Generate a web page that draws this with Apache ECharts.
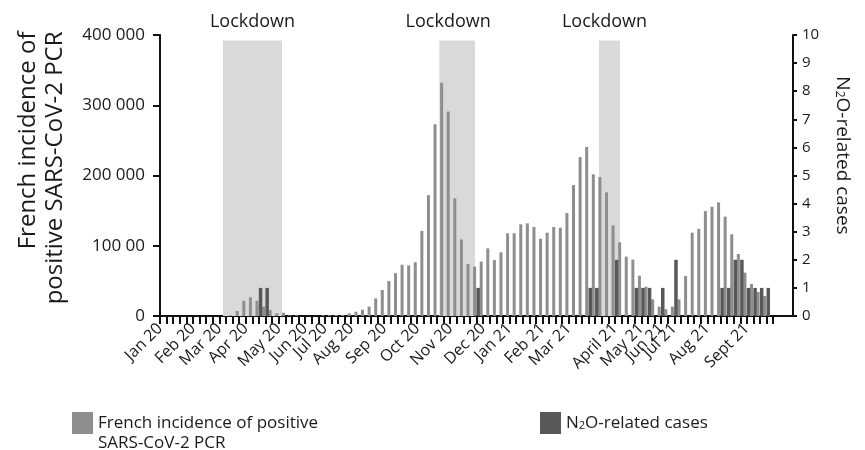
<!DOCTYPE html>
<html><head><meta charset="utf-8">
<script src="https://cdn.jsdelivr.net/npm/echarts@6/dist/echarts.min.js"></script>
<style>html,body{margin:0;padding:0;background:#fff}#c{width:865px;height:450px}</style>
</head><body><div id="c"></div>
<script>
// Weekly categories (week start dates)
const weeks = [];
(function(){ const d = new Date(Date.UTC(2019,11,30)); for (let i=0;i<97;i++){ const t=new Date(d.getTime()+i*7*86400000); weeks.push(t.toISOString().slice(0,10)); } })();

// French incidence of positive SARS-CoV-2 PCR (weekly)
const incidence = [
  0,0,0,0,0,0,0,0,0,0,0,
  1000,7100,21800,26600,21800,13300,8500,3800,4700,1000,1000,
  0,0,0,1000,1200,1400,1600,3600,6100,9000,13300,
  25000,37000,49800,61000,73000,72000,76500,121000,172000,273000,332000,
  291000,167500,109000,74000,70200,77400,96300,79700,90600,117700,117700,
  130500,131900,126700,110000,118600,126700,125700,146600,186500,226300,240600,
  201700,197900,176000,129100,104900,84400,80200,57400,41700,23700,13300,
  9500,13300,23700,57000,118600,124000,149500,155600,161800,141400,116300,
  88300,61700,45600,34200,28500,
  null,null,null,null
];
// N2O-related cases (weekly)
const n2oCases = [
  0,0,0,0,0,0,0,0,0,0,0,
  0,0,0,0,1,1,0,0,0,0,0,
  0,0,0,0,0,0,0,0,0,0,0,
  0,0,0,0,0,0,0,0,0,0,0,
  0,0,0,0,1,0,0,0,0,0,0,
  0,0,0,0,0,0,0,0,0,0,1,
  1,0,0,2,0,0,1,1,1,0,1,
  0,2,0,0,0,0,0,0,1,1,2,
  2,1,1,1,1,
  null,null,null,null
];
// Month tick labels and the week index where each sits
const monthLabels = ['Jan 20','Feb 20','Mar 20','Apr 20','May 20','Jun 20','Jul 20','Aug 20','Sep 20','Oct 20','Nov 20','Dec 20','Jan 21','Feb 21','Mar 21','April 21','May 21','Jun 21','Jul 21','Aug 21','Sept 21'];
const monthLabelWeek = [0,5,9,13,18,22,25,29,34,39,44,49,53,58,62,69,73,76,78,83,89];
const leftTickLabels = ['0','100 00','200 000','300 000','400 000'];
// Lockdown periods (in week units)
const lockdownStart = [9.55, 42.36, 66.58];
const lockdownEnd = [18.5, 47.77, 69.76];
const lockdownLabelShift = [0, -9, -5];

const FONT = 'Open Sans';
const labelAt = {};
monthLabelWeek.forEach((w,k)=>{ labelAt[w] = monthLabels[k]; });

const chart = echarts.init(document.getElementById('c'), null, {renderer:'canvas'});
const option = {
  animation: false,
  textStyle: {fontFamily: FONT, color: '#1a1a1a'},
  grid: {left: 160, right: 72, top: 35, bottom: 134, containLabel: false},
  legend: [
    {data: ['French incidence'], left: 72, top: 393, padding: 0, icon: 'rect', itemWidth: 21, itemHeight: 22,
     formatter: () => ' \nFrench incidence of positive\nSARS-CoV-2 PCR',
     textStyle: {fontFamily: FONT, fontSize: 17, color: '#1a1a1a', lineHeight: 20}},
    {data: ['N2O'], left: 540, top: 412, padding: 0, icon: 'rect', itemWidth: 21, itemHeight: 22,
     formatter: () => 'N{s|2}O-related cases',
     textStyle: {fontFamily: FONT, fontSize: 17, color: '#1a1a1a',
       rich: {s: {fontFamily: FONT, fontSize: 11, color: '#1a1a1a', verticalAlign: 'bottom', lineHeight: 11}}}}
  ],
  xAxis: [
    {type: 'category', data: weeks, boundaryGap: false,
     axisLine: {lineStyle: {color: '#111', width: 2}},
     axisTick: {interval: (i) => i <= 93, length: 8, lineStyle: {color: '#111', width: 2}},
     axisLabel: {interval: 0, rotate: 45, margin: 10, fontSize: 16, color: '#1a1a1a', fontFamily: FONT,
       formatter: (v, i) => labelAt[i] || ''},
     splitLine: {show: false}},
    {type: 'value', min: 0, max: 96, show: false}
  ],
  yAxis: [
    {type: 'value', min: 0, max: 400000, interval: 100000, position: 'left',
     axisLine: {show: true, lineStyle: {color: '#111', width: 2}},
     axisTick: {show: true, length: 7, lineStyle: {color: '#111', width: 2}},
     axisLabel: {fontSize: 17, margin: 15, color: '#1a1a1a', fontFamily: FONT,
       formatter: (v) => leftTickLabels[Math.round(v/100000)]},
     splitLine: {show: false},
     name: '{l|French incidence of}\n{l|positive SARS-CoV-2 PCR}',
     nameLocation: 'middle', nameRotate: 90, nameGap: 91,
     nameTextStyle: {fontSize: 24, lineHeight: 27,
       rich: {l: {width: 288, align: 'right', fontSize: 24, lineHeight: 27, fontFamily: FONT, color: '#1a1a1a'}}}},
    {type: 'value', min: 0, max: 10, interval: 1, position: 'right',
     axisLine: {show: true, lineStyle: {color: '#111', width: 2}},
     axisTick: {show: true, length: 4, lineStyle: {color: '#111', width: 2}},
     axisLabel: {fontSize: 15, margin: 9, color: '#1a1a1a', fontFamily: FONT},
     splitLine: {show: false},
     name: 'N{s|2}O-related cases', nameLocation: 'middle', nameRotate: -90, nameGap: 40,
     nameTextStyle: {fontSize: 19, color: '#1a1a1a', fontFamily: FONT, padding: [0, 40, 0, 0],
       rich: {s: {fontSize: 12, fontFamily: FONT, color: '#1a1a1a', verticalAlign: 'bottom', lineHeight: 12}}}}
  ],
  series: [
    {name: 'lockdown', type: 'line', xAxisIndex: 1, yAxisIndex: 0, data: [], silent: true,
     markArea: {silent: true,
       itemStyle: {color: '#d9d9d9'},
       label: {show: true, position: 'top', distance: 10, fontSize: 18, color: '#1a1a1a', fontFamily: FONT},
       data: lockdownStart.map((s, k) => [
         {name: 'Lockdown', xAxis: s, yAxis: 392000, label: {offset: [lockdownLabelShift[k], 0]}},
         {xAxis: lockdownEnd[k], yAxis: 0}
       ])}},
    {name: 'French incidence', type: 'bar', xAxisIndex: 0, yAxisIndex: 0, data: incidence,
     barWidth: 3, barGap: '10%', itemStyle: {color: '#8e8e8e'}},
    {name: 'N2O', type: 'bar', xAxisIndex: 0, yAxisIndex: 1, data: n2oCases,
     barWidth: 3.5, barGap: '10%', itemStyle: {color: '#585858'}}
  ]
};
chart.setOption(option);
</script>
</body></html>
